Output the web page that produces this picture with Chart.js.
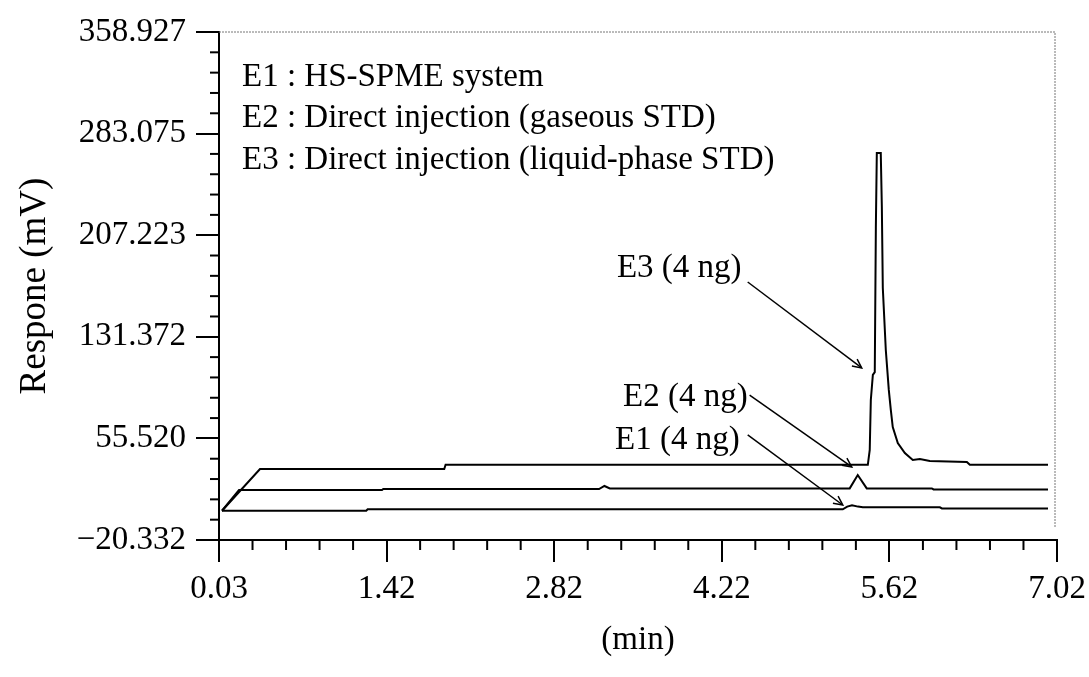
<!DOCTYPE html>
<html lang="en">
<head>
<meta charset="UTF-8">
<title>Chromatogram E1 / E2 / E3</title>
<style>
  html, body { margin: 0; padding: 0; background: #fff; }
  .wrap { width: 1089px; height: 677px; }
</style>
</head>
<body>
<div class="wrap"><canvas id="chart" width="1089" height="677"></canvas></div>
<script src="https://cdn.jsdelivr.net/npm/chart.js@4.4.1/dist/chart.umd.min.js"></script>
<script>
// axis ticks
const xTickValues = [0.03, 1.428, 2.826, 4.224, 5.622, 7.02];
const xTickLabels = ["0.03", "1.42", "2.82", "4.22", "5.62", "7.02"];
const yTickValues = [-20.332, 55.520, 131.372, 207.223, 283.075, 358.927];
const yTickLabels = ["\u221220.332", "55.520", "131.372", "207.223", "283.075", "358.927"];

// E1 : HS-SPME system
const e1Time = [0.055, 1.258, 1.27, 5.233, 5.27, 5.31, 5.36, 5.40, 6.043, 6.06, 6.945];
const e1Resp = [1.5, 1.5, 2.6, 2.6, 4.6, 5.6, 4.6, 4.1, 4.1, 3.2, 3.2];

// E2 : Direct injection (gaseous STD)
const e2Time = [0.055, 0.197, 1.39, 1.40, 3.20, 3.245, 3.29, 5.291, 5.358, 5.433, 5.976, 5.99, 6.945];
const e2Resp = [1.5, 17.0, 17.0, 17.7, 17.7, 20.0, 18.2, 18.2, 28.2, 18.2, 18.2, 17.4, 17.4];

// E3 : Direct injection (liquid-phase STD)
const e3Time = [0.055, 0.372, 1.909, 1.92, 5.442, 5.458, 5.467, 5.484, 5.50, 5.509, 5.517, 5.55, 5.559,
                5.567, 5.592, 5.617, 5.634, 5.650, 5.692, 5.751, 5.817, 5.876, 5.959, 6.268, 6.293, 6.945];
const e3Resp = [1.5, 32.7, 32.7, 35.8, 35.8, 46.9, 84.2, 103.0, 105.0, 212.6, 268.6, 268.6, 228.3,
                167.8, 121.5, 91.7, 76.7, 64.0, 52.1, 44.6, 39.4, 40.1, 38.6, 37.9, 35.8, 35.8];

const keyLines = ["E1 : HS-SPME system", "E2 : Direct injection (gaseous STD)", "E3 : Direct injection (liquid-phase STD)"];

// callout text (right edge) + arrow, in data units
const callouts = [
  { text: "E3 (4 ng)", tx: 4.389, ty: 182.7, from: [4.440, 172.3], to: [5.391, 108.1] },
  { text: "E2 (4 ng)", tx: 4.44,  ty: 86.4,  from: [4.456, 87.9],  to: [5.308, 34.2] },
  { text: "E1 (4 ng)", tx: 4.373, ty: 54.3,  from: [4.440, 58.1],  to: [5.233, 5.8] }
];

const serif = '"Liberation Serif", "DejaVu Serif", serif';
const toPoints = (t, r) => t.map((v, i) => ({ x: v, y: r[i] }));

const overlay = {
  id: 'overlay',
  afterDraw(chart) {
    const { ctx, chartArea: a, scales: { x, y } } = chart;
    ctx.save();

    // dotted top / right frame
    ctx.strokeStyle = '#777';
    ctx.lineWidth = 1;
    ctx.setLineDash([2, 1]);
    ctx.beginPath();
    ctx.moveTo(a.left, a.top);
    ctx.lineTo(a.right - 2, a.top);
    ctx.lineTo(a.right - 2, a.bottom - 13);
    ctx.stroke();
    ctx.setLineDash([]);

    // minor ticks
    ctx.strokeStyle = '#000';
    ctx.lineWidth = 2;
    for (let i = 0; i < xTickValues.length - 1; i++) {
      const step = (xTickValues[i + 1] - xTickValues[i]) / 5;
      for (let k = 1; k < 5; k++) {
        const px = x.getPixelForValue(xTickValues[i] + step * k);
        ctx.beginPath(); ctx.moveTo(px, a.bottom); ctx.lineTo(px, a.bottom + 10); ctx.stroke();
      }
    }
    for (let i = 0; i < yTickValues.length - 1; i++) {
      const step = (yTickValues[i + 1] - yTickValues[i]) / 5;
      for (let k = 1; k < 5; k++) {
        const py = y.getPixelForValue(yTickValues[i] + step * k);
        ctx.beginPath(); ctx.moveTo(a.left - 9, py); ctx.lineTo(a.left, py); ctx.stroke();
      }
    }

    // key
    ctx.fillStyle = '#000';
    ctx.font = '33px ' + serif;
    ctx.textBaseline = 'middle';
    ctx.textAlign = 'left';
    keyLines.forEach((t, i) => ctx.fillText(t, a.left + 23, a.top + 45 + i * 41.5));

    // callouts
    ctx.textAlign = 'right';
    ctx.lineWidth = 1.5;
    callouts.forEach(c => {
      ctx.fillText(c.text, x.getPixelForValue(c.tx), y.getPixelForValue(c.ty));
      const x0 = x.getPixelForValue(c.from[0]), y0 = y.getPixelForValue(c.from[1]);
      const x1 = x.getPixelForValue(c.to[0]), y1 = y.getPixelForValue(c.to[1]);
      ctx.beginPath(); ctx.moveTo(x0, y0); ctx.lineTo(x1, y1); ctx.stroke();
      const ang = Math.atan2(y1 - y0, x1 - x0);
      ctx.beginPath();
      ctx.moveTo(x1 - 10 * Math.cos(ang - 0.45), y1 - 10 * Math.sin(ang - 0.45));
      ctx.lineTo(x1, y1);
      ctx.lineTo(x1 - 10 * Math.cos(ang + 0.45), y1 - 10 * Math.sin(ang + 0.45));
      ctx.stroke();
    });
    ctx.restore();
  }
};

const lineStyle = { borderColor: '#000', borderWidth: 2, pointRadius: 0, tension: 0, fill: false };

new Chart(document.getElementById('chart'), {
  type: 'line',
  data: {
    datasets: [
      { label: 'E1', data: toPoints(e1Time, e1Resp), ...lineStyle },
      { label: 'E2', data: toPoints(e2Time, e2Resp), ...lineStyle },
      { label: 'E3', data: toPoints(e3Time, e3Resp), ...lineStyle }
    ]
  },
  options: {
    responsive: false,
    animation: false,
    layout: { padding: { left: 0, right: 32, top: 32, bottom: 0 } },
    plugins: { legend: { display: false }, tooltip: { enabled: false } },
    scales: {
      x: {
        type: 'linear',
        min: 0.03,
        max: 7.02,
        afterBuildTicks: s => { s.ticks = xTickValues.map(v => ({ value: v })); },
        afterFit: s => { s.height = 137; s.paddingLeft = 0; s.paddingRight = 32; },
        ticks: {
          color: '#000',
          font: { family: serif, size: 33 },
          padding: 8,
          maxRotation: 0,
          autoSkip: false,
          callback: (v, i) => xTickLabels[i]
        },
        grid: { drawOnChartArea: false, drawTicks: true, tickLength: 22, color: '#000', lineWidth: 2 },
        border: { display: true, color: '#000', width: 2 },
        title: { display: true, text: '(min)', color: '#000', font: { family: serif, size: 33 }, padding: { top: 0, bottom: 17 } }
      },
      y: {
        min: -20.332,
        max: 358.927,
        afterBuildTicks: s => { s.ticks = yTickValues.map(v => ({ value: v })); },
        afterFit: s => { s.width = 219; s.paddingTop = 0; s.paddingBottom = 0; },
        ticks: {
          color: '#000',
          font: { family: serif, size: 33 },
          padding: 10,
          autoSkip: false,
          callback: (v, i) => yTickLabels[i]
        },
        grid: { drawOnChartArea: false, drawTicks: true, tickLength: 23, color: '#000', lineWidth: 2 },
        border: { display: true, color: '#000', width: 2 },
        title: { display: true, text: 'Respone (mV)', color: '#000', font: { family: serif, size: 37 }, padding: { top: 13, bottom: 0 } }
      }
    }
  },
  plugins: [overlay]
});
</script>
</body>
</html>
